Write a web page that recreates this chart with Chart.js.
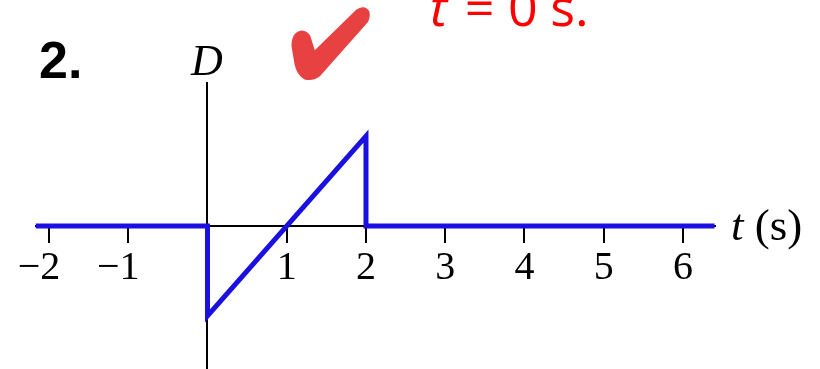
<!DOCTYPE html>
<html>
<head>
<meta charset="utf-8">
<script src="https://cdn.jsdelivr.net/npm/chart.js@4"></script>
<style>
  body { margin: 0; background: #fff; overflow: hidden; }
  .wrap { position: relative; width: 820px; height: 369px; }
  .txt { position: absolute; line-height: 1; white-space: nowrap; }
  .num { left: 39px; top: 30px; font: bold 52px 'Liberation Sans', sans-serif; color: #000; }
  .dlab { left: 191px; top: 35px; font: italic 44px 'Liberation Serif', serif; color: #000; }
  .tlab { left: 731px; top: 199px; font: 45px 'Liberation Serif', serif; color: #000; }
  .note { left: 430px; top: -30px; font: 52px 'Open Sans', sans-serif; color: #ff0000; word-spacing: 4px; }
  .note .w2 { word-spacing: 0px; }
  .note .w3 { word-spacing: -1px; }
</style>
</head>
<body>
<div class="wrap">
  <canvas id="myChart"></canvas>
  <div class="txt num">2.</div>
  <div class="txt dlab">D</div>
  <div class="txt tlab"><i>t</i> (s)</div>
  <div class="txt note"><i>t</i> =<span class="w2"> 0</span><span class="w3"> s.</span></div>
</div>
<script>
// displacement D vs time t
const tValues = [-2.17, 0, 0, 2, 2, 6.4];
const dValues = [0, 0, -1, 1, 0, 0];
const tickValues = [-2, -1, 1, 2, 3, 4, 5, 6];
const tickLabels = ['−2', '−1', '1', '2', '3', '4', '5', '6'];

const points = tValues.map((t, i) => ({ x: t, y: dValues[i] }));

// red brush check mark up top
const checkMark = {
  id: 'checkMark',
  afterDraw(chart) {
    const c = chart.ctx;
    c.save();
    c.fillStyle = '#e84141';
    c.strokeStyle = '#e84141';
    c.lineWidth = 3;
    c.lineJoin = 'round';
    c.beginPath();
    c.moveTo(293, 46);
    c.quadraticCurveTo(293, 33, 302, 32);
    c.quadraticCurveTo(309, 33, 310, 40);
    c.lineTo(314, 53);
    c.lineTo(357, 11);
    c.quadraticCurveTo(364, 6, 368, 12);
    c.quadraticCurveTo(369, 18, 366, 22);
    c.lineTo(319, 75);
    c.quadraticCurveTo(312, 80, 305, 78);
    c.quadraticCurveTo(298, 74, 296, 64);
    c.closePath();
    c.fill();
    c.stroke();
    c.restore();
  }
};

const ctx = document.getElementById('myChart');
const chart = new Chart(ctx, {
  type: 'scatter',
  data: {
    datasets: [{
      data: points,
      showLine: true,
      borderColor: '#1a10e0',
      borderWidth: 5,
      borderCapStyle: 'butt',
      borderJoinStyle: 'miter',
      pointRadius: 0,
      tension: 0
    }]
  },
  options: {
    responsive: true,
    maintainAspectRatio: false,
    animation: false,
    layout: { padding: { left: 35.5, right: 105.3, top: 83, bottom: 0 } },
    plugins: { legend: { display: false }, tooltip: { enabled: false } },
    scales: {
      x: {
        type: 'linear',
        min: -2.17,
        max: 6.4,
        position: { y: 0 },
        afterBuildTicks: (scale) => { scale.ticks = tickValues.map(v => ({ value: v })); },
        ticks: {
          autoSkip: false,
          maxRotation: 0,
          padding: 2,
          color: '#000',
          font: { family: 'Liberation Serif', size: 40 },
          // keep the digit on the tick, minus sign hangs to the left
          callback: (v) => {
            const s = tickLabels[tickValues.indexOf(v)];
            return v < 0 ? s + '\u2002' : s;
          }
        },
        grid: { drawOnChartArea: false, drawTicks: true, tickLength: 16, color: '#000', lineWidth: 2 },
        border: { display: true, color: '#000', width: 2 }
      },
      y: {
        type: 'linear',
        min: -1.59,
        max: 1.59,
        position: { x: 0 },
        ticks: { display: false },
        grid: { display: false },
        border: { display: true, color: '#000', width: 2 }
      }
    }
  },
  plugins: [checkMark]
});
</script>
</body>
</html>
